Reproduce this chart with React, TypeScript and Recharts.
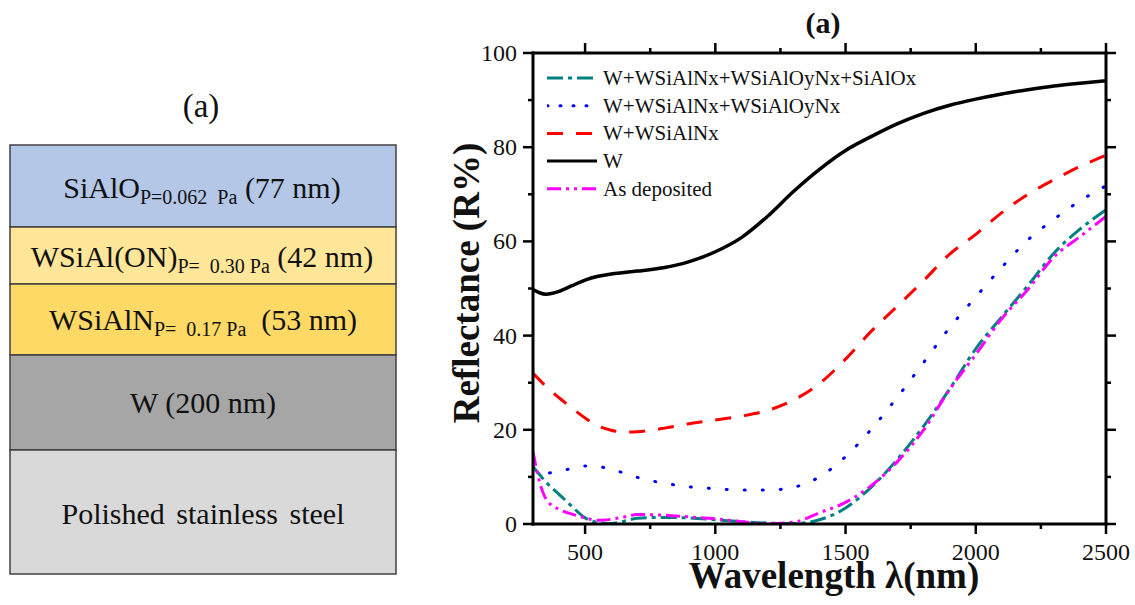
import React from "react";
import { LineChart, Line, XAxis, YAxis, Legend } from "recharts";

const SERIF = '"Liberation Serif", "Times New Roman", serif';

// wavelengths (nm) shared by every spectrum
const wavelengthNm = [
  300, 325, 350, 400, 450, 500, 550, 600, 650, 700, 800, 900, 1000, 1100,
  1200, 1300, 1400, 1500, 1600, 1700, 1800, 1900, 2000, 2100, 2200, 2300,
  2400, 2500,
];

// reflectance (%) for each sample
const reflW = [
  49.8, 49.1, 48.8, 49.4, 50.6, 51.8, 52.6, 53.1, 53.4, 53.7, 54.4, 55.7,
  57.8, 60.8, 65.3, 70.6, 75.3, 79.3, 82.3, 85.0, 87.2, 88.9, 90.2, 91.3,
  92.2, 93.0, 93.6, 94.1,
];
const reflNitride = [
  32.0, 30.6, 29.2, 26.8, 24.6, 22.5, 20.8, 19.9, 19.5, 19.6, 20.3, 21.3,
  22.1, 22.9, 24.1, 26.3, 29.8, 35.0, 41.0, 46.3, 51.7, 57.3, 61.5, 66.1,
  70.0, 73.1, 75.9, 78.3,
];
const reflOxynitride = [
  12.1, 11.2, 10.8, 11.2, 11.8, 12.3, 12.2, 11.6, 10.8, 9.9, 8.7, 7.9, 7.5,
  7.2, 7.2, 7.8, 10.0, 14.3, 20.2, 27.0, 34.3, 41.7, 48.2, 54.5, 60.3, 64.7,
  68.6, 71.8,
];
const reflFullStack = [
  12.1, 10.5, 8.9, 6.3, 3.7, 1.3, 0.3, 0.1, 0.6, 1.2, 1.4, 1.3, 0.9, 0.5,
  0.2, 0.1, 0.9, 3.4, 7.9, 13.8, 20.8, 28.7, 37.2, 44.0, 50.6, 57.5, 62.6,
  66.7,
];
const reflAsDeposited = [
  15.3, 9.0, 5.3, 3.1, 2.1, 1.3, 0.8, 1.0, 1.5, 2.0, 1.9, 1.5, 1.1, 0.5, 0.1,
  0.4, 2.4, 4.6, 8.2, 13.3, 20.0, 28.6, 36.0, 43.6, 49.8, 56.7, 61.0, 65.3,
];

const xTicks = [500, 750, 1000, 1250, 1500, 1750, 2000, 2250, 2500];
const yTicks = [0, 10, 20, 30, 40, 50, 60, 70, 80, 90, 100];

const rows = wavelengthNm.map((nm, i) => ({
  nm,
  w: reflW[i],
  nitride: reflNitride[i],
  oxynitride: reflOxynitride[i],
  full: reflFullStack[i],
  asDep: reflAsDeposited[i],
}));

// legend order (top to bottom)
const series = [
  { key: "full", name: "W+WSiAlNx+WSiAlOyNx+SiAlOx", color: "#008080", dash: "16 5 4 5", legendDash: "16 5 4 5", cap: "butt" },
  { key: "oxynitride", name: "W+WSiAlNx+WSiAlOyNx", color: "#0000ff", dash: "1 17", legendDash: "1 12", cap: "round" },
  { key: "nitride", name: "W+WSiAlNx", color: "#ff0000", dash: "16 13", legendDash: "16 13", cap: "butt" },
  { key: "w", name: "W", color: "#000000", dash: undefined, legendDash: undefined, cap: "butt" },
  { key: "asDep", name: "As deposited", color: "#ff00ff", dash: "14 5 3 5 3 5", legendDash: "14 5 3 5 3 5", cap: "butt" },
];
// drawing order: W at the back, as-deposited on top
const drawOrder = ["w", "nitride", "oxynitride", "full", "asDep"];

const tickStroke = { stroke: "#000", strokeWidth: 2.5 };
const axisLineStyle = { stroke: "#000", strokeWidth: 3, strokeLinecap: "square" as const };

const BottomTick = (props: any) => {
  const { x, y, payload } = props;
  const major = payload.value % 500 === 0;
  return (
    <g>
      <line x1={x} y1={y} x2={x} y2={y + (major ? 10 : 5)} {...tickStroke} />
      {major && (
        <text x={x} y={y + 36} textAnchor="middle" fontFamily={SERIF} fontSize={24} fill="#111">
          {payload.value}
        </text>
      )}
    </g>
  );
};

const TopTick = (props: any) => {
  const { x, y, payload } = props;
  const major = payload.value % 500 === 0;
  return <line x1={x} y1={y} x2={x} y2={y - (major ? 10 : 5)} {...tickStroke} />;
};

const LeftTick = (props: any) => {
  const { x, y, payload } = props;
  const major = payload.value % 20 === 0;
  return (
    <g>
      <line x1={x} y1={y} x2={x - (major ? 10 : 5)} y2={y} {...tickStroke} />
      {major && (
        <text x={x - 16} y={y + 8} textAnchor="end" fontFamily={SERIF} fontSize={24} fill="#111">
          {payload.value}
        </text>
      )}
    </g>
  );
};

const RightTick = (props: any) => {
  const { x, y, payload } = props;
  const major = payload.value % 20 === 0;
  return <line x1={x} y1={y} x2={x + (major ? 10 : 5)} y2={y} {...tickStroke} />;
};

const renderLegend = () => (
  <svg width={420} height={150}>
    {series.map((s, i) => {
      const cy = 14 + i * 27.7;
      return (
        <g key={s.key}>
          <line
            x1={0}
            y1={cy}
            x2={50}
            y2={cy}
            stroke={s.color}
            strokeWidth={3}
            strokeDasharray={s.legendDash}
            strokeLinecap={s.cap as any}
          />
          <text x={56} y={cy + 7} fontFamily={SERIF} fontSize={21} fill="#111">
            {s.name}
          </text>
        </g>
      );
    })}
  </svg>
);

// left panel: the coating layer stack
const layers = [
  { top: 145, bottom: 227, fill: "#b4c7e7" },
  { top: 227, bottom: 284, fill: "#ffe699" },
  { top: 284, bottom: 355, fill: "#ffd966" },
  { top: 355, bottom: 450, fill: "#a6a6a6" },
  { top: 450, bottom: 574, fill: "#d9d9d9" },
];

const LayerStack = () => (
  <svg width={420} height={605} style={{ position: "absolute", left: 0, top: 0 }}>
    <text x={201} y={117} textAnchor="middle" fontFamily={SERIF} fontSize={33} fill="#111">
      (a)
    </text>
    {layers.map((l, i) => (
      <rect key={i} x={10} y={l.top} width={386} height={l.bottom - l.top} fill={l.fill} stroke="#404040" strokeWidth={1.5} />
    ))}
    <text x={202} y={198} textAnchor="middle" fontFamily={SERIF} fontSize={30} fill="#111">
      SiAlO
      <tspan fontSize={20} dy={6}>{"P=0.062\u00a0\u00a0Pa"}</tspan>
      <tspan dy={-6}>{"\u00a0(77 nm)"}</tspan>
    </text>
    <text x={202} y={267} textAnchor="middle" fontFamily={SERIF} fontSize={30} fill="#111">
      WSiAl(ON)
      <tspan fontSize={20} dy={6}>{"P=\u00a0\u00a00.30 Pa"}</tspan>
      <tspan dy={-6}>{"\u00a0(42 nm)"}</tspan>
    </text>
    <text x={203} y={330} textAnchor="middle" fontFamily={SERIF} fontSize={30} fill="#111">
      WSiAlN
      <tspan fontSize={20} dy={6}>{"P=\u00a0\u00a00.17 Pa"}</tspan>
      <tspan dy={-6}>{"\u00a0\u00a0(53 nm)"}</tspan>
    </text>
    <text x={203} y={413} textAnchor="middle" fontFamily={SERIF} fontSize={30} fill="#111">
      W (200 nm)
    </text>
    <text x={203} y={524} textAnchor="middle" fontFamily={SERIF} fontSize={30} wordSpacing={4} fill="#111">
      Polished stainless steel
    </text>
  </svg>
);

const Titles = () => (
  <svg width={1135} height={605} style={{ position: "absolute", left: 0, top: 0, pointerEvents: "none" }}>
    <text x={823} y={33} textAnchor="middle" fontFamily={SERIF} fontWeight="bold" fontSize={30} fill="#111">
      (a)
    </text>
    <text
      x={479}
      y={283}
      transform="rotate(-90, 479, 283)"
      textAnchor="middle"
      fontFamily={SERIF}
      fontWeight="bold"
      fontSize={37}
      fill="#111"
    >
      Reflectance (R%)
    </text>
    <text x={834} y={588} textAnchor="middle" fontFamily={SERIF} fontWeight="bold" fontSize={37} fill="#111">
      Wavelength λ(nm)
    </text>
  </svg>
);

export default function App() {
  return (
    <div style={{ position: "absolute", left: 0, top: 0, width: 1135, height: 605, background: "#fff" }}>
      <LayerStack />
      <div style={{ position: "absolute", left: 440, top: 0 }}>
        <LineChart width={695} height={605} data={rows} margin={{ top: 43, right: 19, bottom: 41, left: 33 }}>
          <XAxis
            xAxisId="bottom"
            dataKey="nm"
            type="number"
            domain={[300, 2500]}
            ticks={xTicks}
            interval={0}
            height={40}
            tickSize={0}
            tickMargin={0}
            tickLine={false}
            axisLine={axisLineStyle}
            tick={BottomTick}
            allowDataOverflow
          />
          <XAxis
            xAxisId="top"
            orientation="top"
            dataKey="nm"
            type="number"
            domain={[300, 2500]}
            ticks={xTicks}
            interval={0}
            height={10}
            tickSize={0}
            tickMargin={0}
            tickLine={false}
            axisLine={axisLineStyle}
            tick={TopTick}
            allowDataOverflow
          />
          <YAxis
            yAxisId="left"
            type="number"
            domain={[0, 100]}
            ticks={yTicks}
            interval={0}
            width={60}
            tickSize={0}
            tickMargin={0}
            tickLine={false}
            axisLine={axisLineStyle}
            tick={LeftTick}
            allowDataOverflow
          />
          <YAxis
            yAxisId="right"
            orientation="right"
            type="number"
            domain={[0, 100]}
            ticks={yTicks}
            interval={0}
            width={10}
            tickSize={0}
            tickMargin={0}
            tickLine={false}
            axisLine={axisLineStyle}
            tick={RightTick}
            allowDataOverflow
          />
          <Legend
            layout="vertical"
            align="center"
            verticalAlign="middle"
            content={renderLegend}
            wrapperStyle={{ left: 107, top: 64, width: 420, height: 150 }}
          />
          {drawOrder.map((k) => {
            const s = series.find((e) => e.key === k)!;
            return (
              <Line
                key={s.key}
                xAxisId="bottom"
                yAxisId="left"
                type="monotone"
                dataKey={s.key}
                name={s.name}
                stroke={s.color}
                strokeWidth={s.key === "w" ? 3.5 : 3}
                strokeDasharray={s.dash}
                strokeLinecap={s.cap as any}
                dot={false}
                activeDot={false}
                isAnimationActive={false}
              />
            );
          })}
        </LineChart>
      </div>
      <Titles />
    </div>
  );
}
